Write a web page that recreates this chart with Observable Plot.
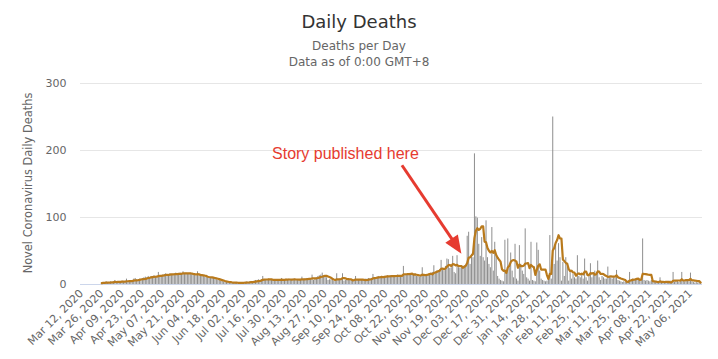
<!DOCTYPE html>
<html><head><meta charset="utf-8">
<script src="https://cdn.jsdelivr.net/npm/d3@7"></script>
<script src="https://cdn.jsdelivr.net/npm/@observablehq/plot@0.6"></script>
<style>
body{margin:0;background:#fff;font-family:"DejaVu Sans",sans-serif;}
#wrap{width:718px;height:359px;position:relative;overflow:hidden}
#head{position:relative;height:70px}
.t{position:absolute;left:0;width:718px;text-align:center;white-space:nowrap}
#ytitle{position:absolute;left:28px;top:183px;transform:translate(-50%,-50%) rotate(-90deg);font-size:11.4px;color:#666;white-space:nowrap;line-height:14px}
</style></head><body>
<div id="wrap"><div id="head">
<div class="t" style="top:11px;font-size:18px;line-height:22px;color:#333">Daily Deaths</div>
<div class="t" style="top:38px;font-size:12px;line-height:16px;color:#666">Deaths per Day</div>
<div class="t" style="top:54px;font-size:12px;line-height:16px;color:#666">Data as of 0:00 GMT+8</div>
</div><div id="chart"></div><div id="ytitle"></div></div>
<script>
// ---- data (daily deaths, first value = 2020-03-26) ----
const startDate = "2020-03-26";
const mar2020 = [2,3,2,4,3,3];
const apr2020 = [4,3,4,6,3,4,4,4,5,4,5,8,4,5,4,6,8,9,7,6,8,8,9,10,11,10,12,10,12,12];
const may2020 = [13,12,11,18,12,13,14,15,16,14,15,16,15,15,16,17,15,16,17,16,19,16,17,15,16,17,15,15,14,13,19];
const jun2020 = [13,12,12,12,11,11,10,10,10,10,9,8,7,6,6,5,5,4,3,3,3,3,3,2,3,2,3,2,3,2];
const jul2020 = [3,3,3,4,3,4,4,4,5,6,6,7,6,7,12,7,7,6,8,7,7,7,7,7,6,7,7,9,6,7,8];
const aug2020 = [7,8,7,7,8,8,7,7,7,7,11,6,8,9,9,9,8,14,6,9,10,12,13,14,17,12,12,10,6,7,7];
const sep2020 = [6,5,7,16,6,8,8,16,5,6,7,6,7,6,7,7,12,6,6,7,6,6,6,8,8,9,9,9,15,8];
const oct2020 = [10,11,12,11,12,12,12,12,13,12,13,13,12,13,13,14,13,13,12,27,13,15,15,14,14,16,15,16,12,12,11];
const nov2020 = [12,25,13,13,14,15,16,17,18,28,18,20,21,22,36,22,20,27,38,37,24,25,42,18,16,43,25,24,25,24];
const dec2020 = [28,27,72,78,30,45,40,195,101,99,60,42,70,40,35,95,40,30,25,85,20,63,45,12,8,6,5,4,66,20,68];
const jan2021 = [25,47,20,10,60,8,5,58,30,20,15,83,10,8,5,63,6,5,4,62,51,20,8,6,5,4,5,10,73,8,250];
const feb2021 = [30,58,35,61,40,5,33,12,40,26,5,20,8,15,10,8,43,12,10,15,8,38,10,5,12,31,10,14];
const mar2021 = [20,15,35,10,6,12,10,8,8,26,12,10,8,10,9,21,6,5,4,3,4,3,4,5,18,6,8,6,7,9,8];
const apr2021 = [5,7,68,6,5,6,5,4,6,3,4,3,2,4,10,2,3,2,4,3,3,5,4,18,3,4,5,3,4,18];
const may2021 = [5,4,6,5,4,17,4,3,2,4,2,4,2];

const tickLabels = ["Mar 12, 2020","Mar 26, 2020","Apr 09, 2020","Apr 23, 2020","May 07, 2020","May 21, 2020","Jun 04, 2020","Jun 18, 2020","Jul 02, 2020","Jul 16, 2020","Jul 30, 2020","Aug 13, 2020","Aug 27, 2020","Sep 10, 2020","Sep 24, 2020","Oct 08, 2020","Oct 22, 2020","Nov 05, 2020","Nov 19, 2020","Dec 03, 2020","Dec 17, 2020","Dec 31, 2020","Jan 14, 2021","Jan 28, 2021","Feb 11, 2021","Feb 25, 2021","Mar 11, 2021","Mar 25, 2021","Apr 08, 2021","Apr 22, 2021","May 06, 2021"];
const yTicks = [0,100,200,300];
const yTitle = "Novel Coronavirus Daily Deaths";
const xDomain = ["2020-03-11T07:00Z","2021-05-14T07:00Z"];

const annotation = [{date:"2020-09-10", value:195, text:"Story published here"}];
const arrowShaft = [{x1:"2020-10-19", y1:178, x2:"2020-11-25", y2:60}];
const arrowHead = [{date:"2020-11-29", value:46}];

// ---- build ----
document.getElementById("ytitle").textContent = yTitle;
const parseTick = d3.utcParse("%b %d, %Y");
const tickDates = tickLabels.map(parseTick);
const allDeaths = [].concat(mar2020,apr2020,may2020,jun2020,jul2020,aug2020,sep2020,oct2020,nov2020,dec2020,jan2021,feb2021,mar2021,apr2021,may2021);
const t0 = new Date(startDate + "T00:00Z");
const data = allDeaths.map((v,i) => ({date: d3.utcDay.offset(t0, i), deaths: v}));
const toDate = s => new Date(s + "T00:00Z");
const ann = annotation.map(a => ({...a, date: toDate(a.date)}));
const shaft = arrowShaft.map(a => ({x1: toDate(a.x1), y1: a.y1, x2: toDate(a.x2), y2: a.y2}));
const head = arrowHead.map(a => ({date: toDate(a.date), value: a.value}));
const red = "#e63b30";

const chart = Plot.plot({
  width: 718, height: 289,
  marginTop: 13, marginBottom: 75, marginLeft: 80, marginRight: 16,
  style: {fontFamily: "DejaVu Sans, sans-serif", fontSize: "11px", color: "#666", background: "transparent", overflow: "visible"},
  x: {type: "utc", domain: xDomain.map(s => new Date(s)), ticks: tickDates,
      tickFormat: d => tickLabels[tickDates.findIndex(t => +t === +d)],
      tickRotate: -45, tickSize: 0, tickPadding: 7, label: null},
  y: {domain: [0, 300], ticks: yTicks, tickSize: 0, tickPadding: 14, label: null},
  marks: [
    Plot.ruleY(yTicks.slice(1), {stroke: "#e6e6e6", strokeWidth: 1}),
    Plot.ruleX(data, {x: "date", y: "deaths", stroke: "#8e8e8e", strokeWidth: 1}),
    Plot.ruleY([0], {stroke: "#ccd6eb", strokeWidth: 1}),
    Plot.lineY(data, Plot.windowY({k: 7, anchor: "end", reduce: "mean"}, {x: "date", y: "deaths", stroke: "#b97a1c", strokeWidth: 2.2})),
    Plot.link(shaft, {x1: "x1", y1: "y1", x2: "x2", y2: "y2", stroke: red, strokeWidth: 3}),
    Plot.vector(head, {x: "date", y: "value", shape: "spike", anchor: "end", length: 18, r: 7.5, rotate: 147, fill: red, stroke: "none"}),
    Plot.text(ann, {x: "date", y: "value", text: "text", fill: red, fontSize: 16, fontFamily: "Liberation Sans, Arial, sans-serif"})
  ]
});
document.getElementById("chart").appendChild(chart);
</script>
</body></html>
